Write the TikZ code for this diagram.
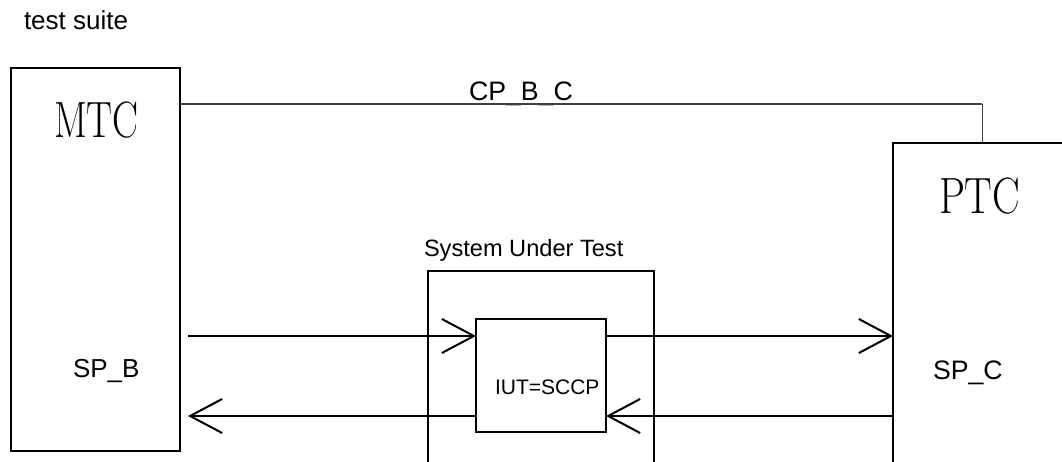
\documentclass[tikz,border=0pt]{standalone}
\usepackage{fontspec}
\setmainfont{Liberation Sans}
\newfontfamily\serifbig{Latin Modern Roman}
\usetikzlibrary{arrows.meta}
\tikzset{
  box/.style={draw, line width=2pt, inner sep=0pt, outer sep=0pt},
  lbl/.style={inner sep=0pt, outer sep=0pt, anchor=base west},
  arr/.style={line width=2pt, -{Straight Barb[length=32pt,width=34pt]}},
  conn/.style={draw=black!75, line width=1.6pt},
  thinconn/.style={draw=black!75, line width=1pt},
}
\begin{document}
\begin{tikzpicture}[x=1pt,y=-1pt]
\useasboundingbox (0,0) rectangle (1062,462);
\clip (0,0) rectangle (1062,462);
\fill[white] (0,0) rectangle (1062,462);
% boxes
\node[box, minimum width=169pt, minimum height=383pt] (mtc) at (95.5,259.5) {};
\node[box, minimum width=207pt, minimum height=357pt] (ptc) at (996.5,321.5) {};
\node[box, minimum width=226pt, minimum height=229pt] (sut) at (541,385.5) {};
\node[box, minimum width=130pt, minimum height=113pt] (iut) at (541,375.5) {};
% texts
\node[lbl, font=\fontsize{26}{30}\selectfont] (ts) at (24,29.3) {test suite};
\node[lbl, font=\fontsize{26.7}{30}\selectfont] (cp) at (469,100.7) {CP\_B\_C};
\node[lbl, font=\fontsize{23.6}{28}\selectfont] (sutl) at (424,256.7) {System Under Test};
\node[lbl, font=\fontsize{26}{30}\selectfont] (spb) at (73,377.7) {SP\_B};
\node[lbl, font=\fontsize{26.7}{30}\selectfont] (spc) at (933,379) {SP\_C};
\node[lbl, font=\fontsize{21}{26}\selectfont] (iutl) at (495,394.3) {IUT=SCCP};
\node[lbl, font=\serifbig\fontsize{51}{60}\selectfont] (mtcl) at (54,138) {\scalebox{0.76}[1]{MTC}};
\node[lbl, font=\serifbig\fontsize{51}{60}\selectfont] (ptcl) at (939,214) {\scalebox{0.81}[1]{PTC}};
% connection CP_B_C
\coordinate (cpa) at (180,104);
\coordinate (cpb) at (982,104);
\draw[conn] (cpa) -- (cpb);
\draw[thinconn] (cpb) -- (cpb |- ptc.north);
% arrows
\coordinate (b1) at (188,336);
\coordinate (b2) at (188,416);
\draw[arr] (b1) -- (iut.west |- b1);
\draw[arr] (iut.east |- b1) -- (ptc.west |- b1);
\draw[arr] (ptc.west |- b2) -- (iut.east |- b2);
\draw[arr] (iut.west |- b2) -- (b2);
\end{tikzpicture}
\end{document}
